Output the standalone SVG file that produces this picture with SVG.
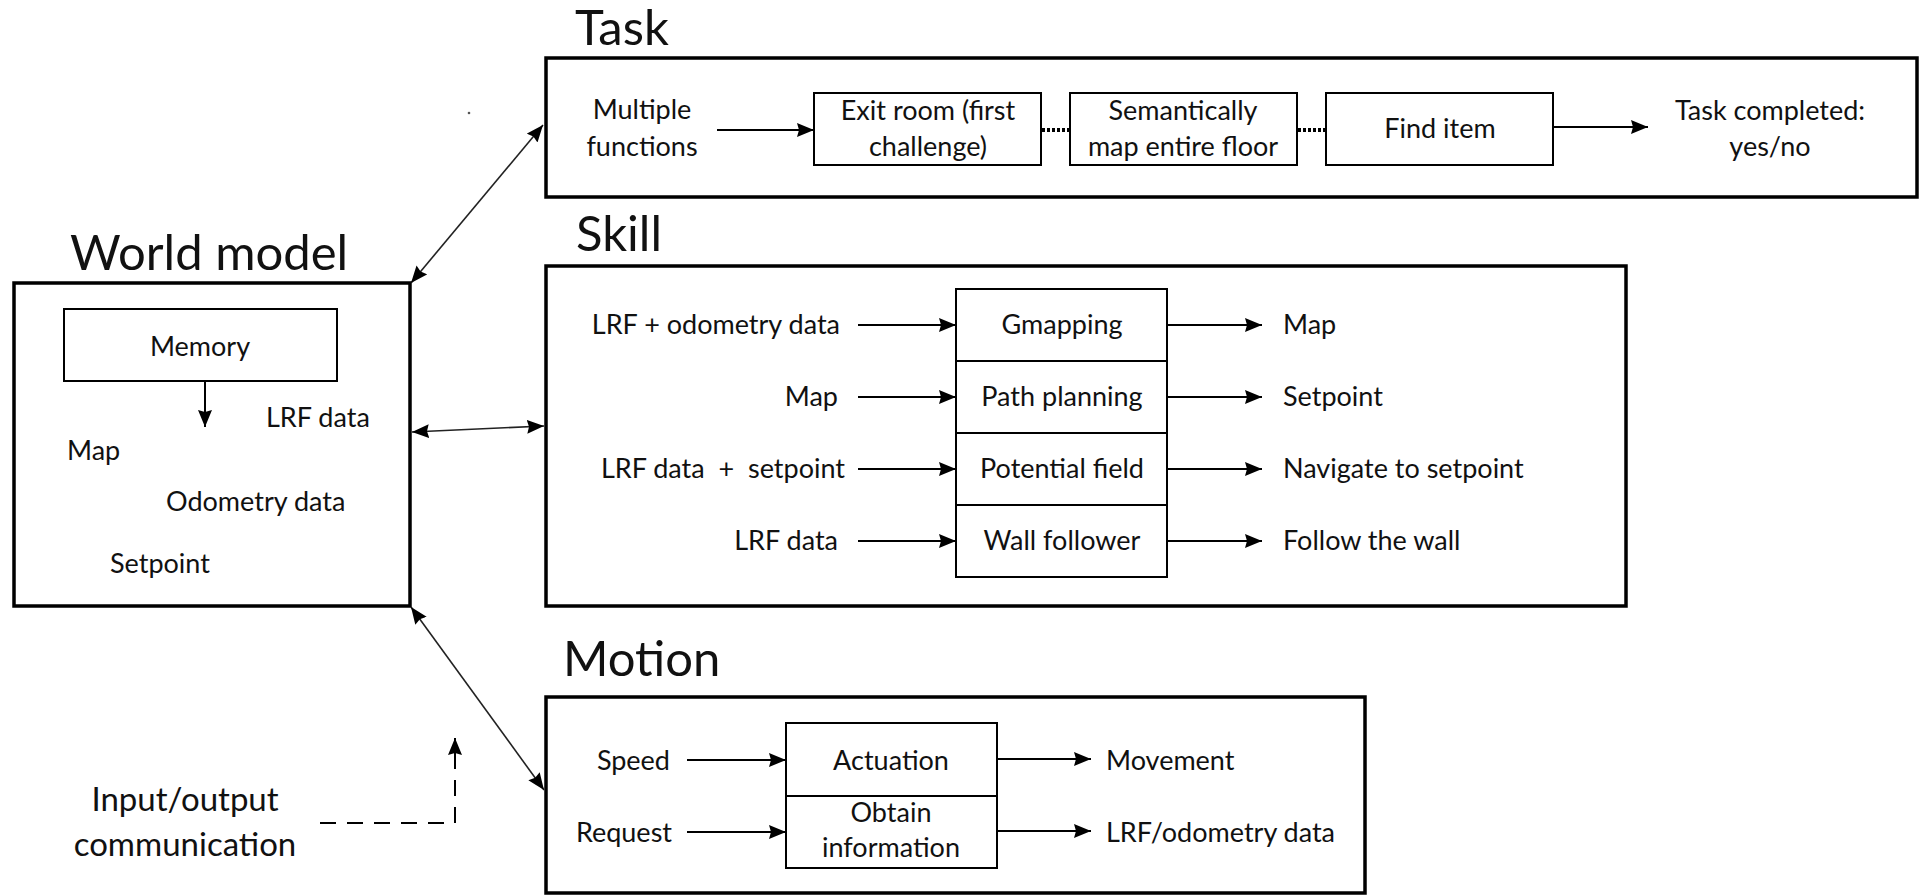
<svg xmlns="http://www.w3.org/2000/svg" width="1921" height="896" viewBox="0 0 1921 896">
<defs>
<style>
text{font-family:Lato,"Liberation Sans",sans-serif;fill:#111;}
.title{font-size:49px;}
.t{font-size:27px;}
.io{font-size:33px;}
.mid{text-anchor:middle;}
.end{text-anchor:end;}
.outer{fill:#fff;stroke:#000;stroke-width:3.5;}
.inner{fill:#fff;stroke:#000;stroke-width:2;}
.arr{fill:none;stroke:#000;stroke-width:2;marker-end:url(#ah);}
.dbl{fill:none;stroke:#222;stroke-width:1.6;marker-end:url(#ah);marker-start:url(#ah);}
.dot{fill:none;stroke:#000;stroke-width:4;stroke-dasharray:3 2;}
.dash{fill:none;stroke:#000;stroke-width:2;stroke-dasharray:16 11;marker-end:url(#ah);}
</style>
<marker id="ah" markerWidth="17" markerHeight="14" refX="17" refY="7" orient="auto-start-reverse" markerUnits="userSpaceOnUse">
<path d="M0,0 L17,7 L0,14 L2,7 z" fill="#000"/>
</marker>
</defs>
<rect width="1921" height="896" fill="#fff"/>

<!-- World model -->
<g id="world-model">
<text class="title" x="70" y="270">World model</text>
<rect class="outer" x="14" y="283" width="396" height="323"/>
<g id="memory">
<rect class="inner" x="64" y="309" width="273" height="72"/>
<text class="t mid" x="200" y="356">Memory</text>
</g>
<text class="t" x="266" y="427">LRF data</text>
<text class="t" x="67" y="460">Map</text>
<text class="t" x="166" y="511">Odometry data</text>
<text class="t" x="110" y="573">Setpoint</text>
</g>

<!-- Task -->
<g id="task">
<text class="title" x="575" y="45">Task</text>
<rect class="outer" x="546" y="58" width="1371" height="139"/>
<text class="t mid" x="642" y="119">Multiple</text>
<text class="t mid" x="642" y="156">functions</text>
<g id="exit-room">
<rect class="inner" x="814" y="93" width="227" height="72"/>
<text class="t mid" x="928" y="120">Exit room (first</text>
<text class="t mid" x="928" y="156">challenge)</text>
</g>
<g id="semantic-map">
<rect class="inner" x="1070" y="93" width="227" height="72"/>
<text class="t mid" x="1183" y="120">Semantically</text>
<text class="t mid" x="1183" y="156">map entire floor</text>
</g>
<g id="find-item">
<rect class="inner" x="1326" y="93" width="227" height="72"/>
<text class="t mid" x="1440" y="138">Find item</text>
</g>
<text class="t mid" x="1770" y="120">Task completed:</text>
<text class="t mid" x="1770" y="156">yes/no</text>
</g>

<!-- Skill -->
<g id="skill">
<text class="title" x="576" y="251">Skill</text>
<rect class="outer" x="546" y="266" width="1080" height="340"/>
<text class="t end" x="840" y="334">LRF + odometry data</text>
<text class="t end" x="838" y="406">Map</text>
<text class="t end" x="845" y="478" xml:space="preserve">LRF data  +  setpoint</text>
<text class="t end" x="838" y="550">LRF data</text>
<g id="gmapping">
<rect class="inner" x="956" y="289" width="211" height="72"/>
<text class="t mid" x="1062" y="334">Gmapping</text>
</g>
<g id="path-planning">
<rect class="inner" x="956" y="361" width="211" height="72"/>
<text class="t mid" x="1062" y="406">Path planning</text>
</g>
<g id="potential-field">
<rect class="inner" x="956" y="433" width="211" height="72"/>
<text class="t mid" x="1062" y="478">Potential field</text>
</g>
<g id="wall-follower">
<rect class="inner" x="956" y="505" width="211" height="72"/>
<text class="t mid" x="1062" y="550">Wall follower</text>
</g>
<text class="t" x="1283" y="334">Map</text>
<text class="t" x="1283" y="406">Setpoint</text>
<text class="t" x="1283" y="478">Navigate to setpoint</text>
<text class="t" x="1283" y="550">Follow the wall</text>
</g>

<!-- Motion -->
<g id="motion">
<text class="title" x="563" y="676">Motion</text>
<rect class="outer" x="546" y="697" width="819" height="196"/>
<text class="t end" x="670" y="770">Speed</text>
<text class="t end" x="672" y="842">Request</text>
<g id="actuation">
<rect class="inner" x="786" y="723" width="211" height="73"/>
<text class="t mid" x="891" y="770">Actuation</text>
</g>
<g id="obtain-information">
<rect class="inner" x="786" y="796" width="211" height="72"/>
<text class="t mid" x="891" y="822">Obtain</text>
<text class="t mid" x="891" y="857">information</text>
</g>
<text class="t" x="1106" y="770">Movement</text>
<text class="t" x="1106" y="842">LRF/odometry data</text>
</g>

<g id="io-label">
<text class="io mid" x="185" y="811">Input/output</text>
<text class="io mid" x="185" y="856">communication</text>
</g>

<circle cx="469" cy="113" r="1.3" fill="#555"/>

<!-- Connectors -->
<g id="connectors">
<line class="dbl" x1="411" y1="283" x2="543" y2="125"/>
<line class="dbl" x1="412" y1="432" x2="544" y2="426"/>
<line class="dbl" x1="411" y1="607" x2="544" y2="790"/>
<path class="dash" d="M320,823 H455 V738"/>
<line class="arr" x1="205" y1="381" x2="205" y2="427"/>
<line class="arr" x1="717" y1="130" x2="814" y2="130"/>
<line class="dot" x1="1042" y1="130" x2="1070" y2="130"/>
<line class="dot" x1="1298" y1="130" x2="1326" y2="130"/>
<line class="arr" x1="1553" y1="127" x2="1648" y2="127"/>
<line class="arr" x1="858" y1="325" x2="956" y2="325"/>
<line class="arr" x1="858" y1="397" x2="956" y2="397"/>
<line class="arr" x1="858" y1="469" x2="956" y2="469"/>
<line class="arr" x1="858" y1="541" x2="956" y2="541"/>
<line class="arr" x1="1167" y1="325" x2="1262" y2="325"/>
<line class="arr" x1="1167" y1="397" x2="1262" y2="397"/>
<line class="arr" x1="1167" y1="469" x2="1262" y2="469"/>
<line class="arr" x1="1167" y1="541" x2="1262" y2="541"/>
<line class="arr" x1="687" y1="760" x2="786" y2="760"/>
<line class="arr" x1="687" y1="832" x2="786" y2="832"/>
<line class="arr" x1="997" y1="759" x2="1091" y2="759"/>
<line class="arr" x1="997" y1="831" x2="1091" y2="831"/>
</g>
</svg>
